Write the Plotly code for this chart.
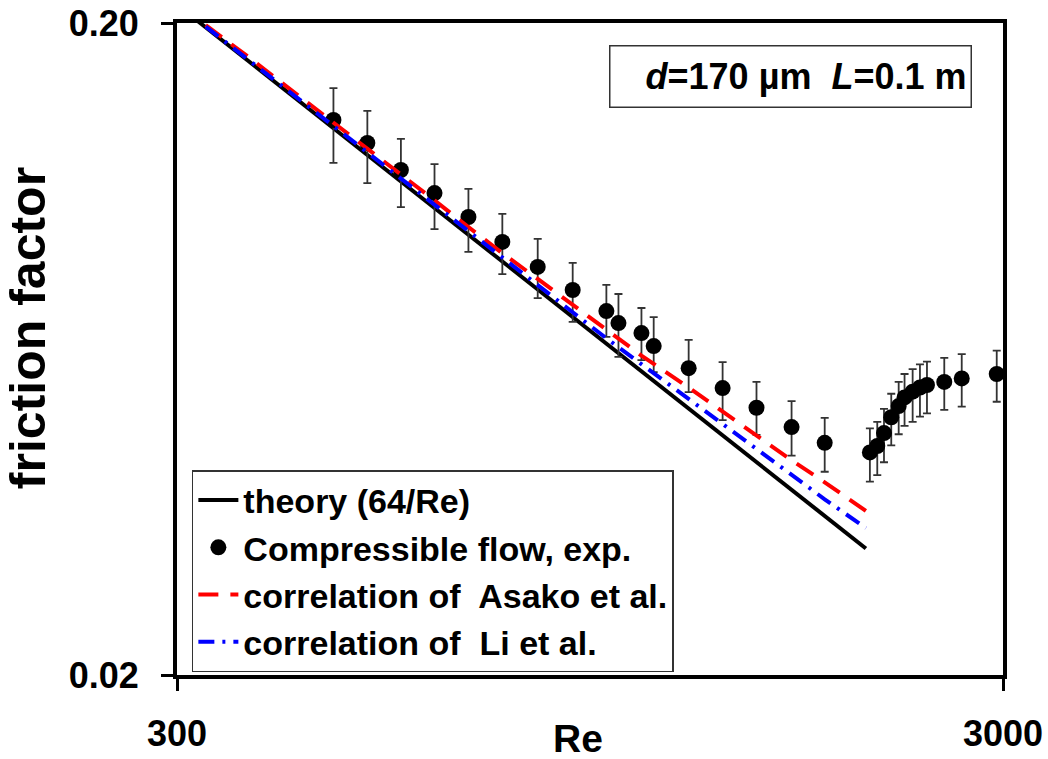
import plotly.graph_objects as go

# ---------------- data ----------------
re_exp = [464, 510, 560, 615, 676, 743, 820, 904, 993, 1027, 1095, 1133, 1249, 1373,
          1509, 1664, 1825, 2070, 2113, 2153, 2197, 2243, 2280, 2332, 2380, 2427,
          2547, 2674, 2948]
f_exp = [0.1420, 0.1309, 0.1190, 0.1097, 0.1008, 0.0923, 0.0845, 0.0779, 0.0723, 0.0693,
         0.0669, 0.0639, 0.0591, 0.0551, 0.0514, 0.0480, 0.0454, 0.0439, 0.0449, 0.0470,
         0.0497, 0.0517, 0.0533, 0.0544, 0.0552, 0.0557, 0.0563, 0.0570, 0.0579]
f_exp_hi = [0.1589, 0.1466, 0.1328, 0.1215, 0.1113, 0.1019, 0.0933, 0.0857, 0.0793, 0.0768,
            0.0731, 0.0708, 0.0653, 0.0604, 0.0563, 0.0526, 0.0496, 0.0478, 0.0489, 0.0512,
            0.0540, 0.0563, 0.0579, 0.0589, 0.0599, 0.0605, 0.0613, 0.0621, 0.0629]
f_exp_lo = [0.1220, 0.1136, 0.1044, 0.0966, 0.0891, 0.0824, 0.0757, 0.0696, 0.0660, 0.0615,
            0.0608, 0.0583, 0.0543, 0.0492, 0.0467, 0.0434, 0.0410, 0.0396, 0.0405, 0.0424,
            0.0450, 0.0468, 0.0482, 0.0489, 0.0498, 0.0504, 0.0510, 0.0516, 0.0525]

re_theory = [318, 2047]
f_theory = [0.2013, 0.03127]

re_corr = [325, 370, 430, 464, 510, 560, 615, 676, 743, 820, 904, 993, 1095, 1249,
           1373, 1509, 1664, 1825, 2047]
f_asako = [0.1985, 0.1756, 0.1515, 0.1408, 0.1283, 0.1171, 0.1069, 0.0973, 0.0887, 0.0810,
           0.0740, 0.0677, 0.0618, 0.0552, 0.0507, 0.0465, 0.0427, 0.0395, 0.0357]
f_li = [0.1975, 0.1737, 0.1497, 0.1389, 0.1265, 0.1153, 0.1051, 0.0957, 0.0872, 0.0791,
        0.0720, 0.0657, 0.0600, 0.0529, 0.0485, 0.0445, 0.0406, 0.0372, 0.0336]

x_ticks = [300, 3000]
x_ticktext = ["300", "3000"]
y_ticks = [0.02, 0.2]
y_ticktext = ["0.02", "0.20"]

err_plus = [h - f for h, f in zip(f_exp_hi, f_exp)]
err_minus = [f - l for f, l in zip(f_exp, f_exp_lo)]

FONT = "Liberation Sans, Arial, sans-serif"

fig = go.Figure()
fig.add_trace(go.Scatter(x=re_theory, y=f_theory, mode="lines", name="theory (64/Re)",
                         line=dict(color="black", width=4)))
fig.add_trace(go.Scatter(x=re_exp, y=f_exp, mode="markers", name="Compressible flow, exp.",
                         marker=dict(color="black", size=16),
                         error_y=dict(type="data", symmetric=False, array=err_plus,
                                      arrayminus=err_minus, color="#333333",
                                      thickness=1.8, width=4)))
fig.add_trace(go.Scatter(x=re_corr, y=f_asako, mode="lines", name="correlation of  Asako et al.",
                         line=dict(color="#ff0000", width=4, dash="20px,12px")))
fig.add_trace(go.Scatter(x=re_corr, y=f_li, mode="lines", name="correlation of  Li et al.",
                         line=dict(color="#0000ff", width=4, dash="16px,8px,3px,8px")))

axis_common = dict(type="log", showline=True, linewidth=4, linecolor="black", mirror=True,
                   ticks="outside", ticklen=12, tickwidth=3, tickcolor="black",
                   showgrid=False, zeroline=False, automargin=False,
                   tickfont=dict(family=FONT, size=36, color="black", weight="bold"))

fig.update_xaxes(range=[2.47712, 3.47712], tickmode="array", tickvals=x_ticks,
                 ticktext=x_ticktext, ticklabelstandoff=12, **axis_common)
fig.update_yaxes(range=[-1.69897, -0.69897], tickmode="array", tickvals=y_ticks,
                 ticktext=y_ticktext, ticklabelstandoff=15, **axis_common)

fig.add_annotation(text="Re", x=0.4855, y=-0.098, xref="paper", yref="paper",
                   showarrow=False, xanchor="center", yanchor="middle",
                   font=dict(family=FONT, size=39, color="black", weight="bold"))
fig.add_annotation(text="friction factor", x=-0.1804, y=0.532, xref="paper", yref="paper",
                   showarrow=False, xanchor="center", yanchor="middle", textangle=-90,
                   font=dict(family=FONT, size=50, color="black", weight="bold"))
fig.add_annotation(text="<i>d</i>=170 µm\u00a0\u00a0<i>L</i>=0.1 m", x=0.7427, y=0.918,
                   xref="paper", yref="paper", showarrow=False,
                   xanchor="center", yanchor="middle", align="right",
                   width=352, height=52, borderpad=4, bordercolor="#333333", borderwidth=1.5,
                   bgcolor="white",
                   font=dict(family=FONT, size=36, color="black", weight="bold"))

fig.update_layout(
    width=1048, height=759,
    margin=dict(l=177, r=45, t=23, b=84, autoexpand=False),
    paper_bgcolor="white", plot_bgcolor="white",
    showlegend=True,
    legend=dict(x=0.018, y=0.3144, xanchor="left", yanchor="top",
                bgcolor="white", bordercolor="#333333", borderwidth=1.5,
                font=dict(family=FONT, size=34, color="black", weight="bold"),
                itemwidth=40, tracegroupgap=0),
)

fig.write_html("out.html")
